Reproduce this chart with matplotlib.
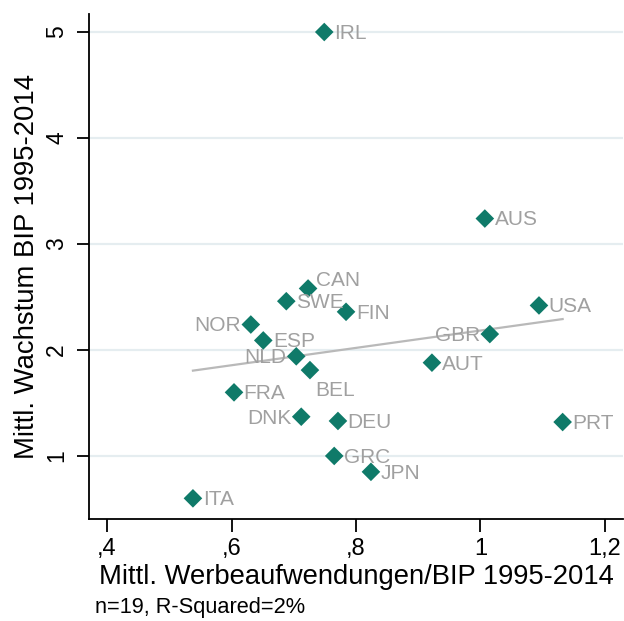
import numpy as np
import matplotlib
matplotlib.use("Agg")
import matplotlib.pyplot as plt

plt.rcParams['font.family'] = ['Liberation Sans', 'DejaVu Sans']

countries = ['IRL', 'AUS', 'CAN', 'SWE', 'FIN', 'NOR', 'ESP', 'NLD', 'BEL', 'FRA',
             'DNK', 'DEU', 'GRC', 'JPN', 'ITA', 'USA', 'GBR', 'AUT', 'PRT']
werbung = [0.749, 1.007, 0.723, 0.688, 0.784, 0.631, 0.651, 0.704, 0.726, 0.604,
           0.712, 0.771, 0.765, 0.824, 0.538, 1.094, 1.015, 0.922, 1.132]
wachstum = [5.00, 3.24, 2.58, 2.46, 2.36, 2.24, 2.09, 1.94, 1.81, 1.60,
            1.37, 1.33, 1.00, 0.85, 0.60, 2.42, 2.15, 1.88, 1.32]

xticks = [0.4, 0.6, 0.8, 1.0, 1.2]
xticklabels = [',4', ',6', ',8', '1', '1,2']
yticks = [1, 2, 3, 4, 5]

# Labels links vom Punkt
left_side = ['NOR', 'NLD', 'GBR', 'DNK']

fig = plt.figure(figsize=(6.24, 6.21), dpi=100)
ax = fig.add_axes([89 / 624, 102 / 621, 534 / 624, 505 / 621])

x = np.array(werbung)
y = np.array(wachstum)

# Regressionsgerade
b, a = np.polyfit(x, y, 1)
xs = np.array([x.min(), x.max()])
ax.plot(xs, a + b * xs, color='#b9b9b9', lw=1.6, zorder=2)

ax.scatter(x, y, marker='D', s=90, color='#0f7a69', edgecolors='none', zorder=3)

for c, xi, yi in zip(countries, x, y):
    if c in left_side:
        off, ha = (-7, -1), 'right'
    elif c == 'BEL':
        off, ha = (4, -15), 'left'
    elif c == 'CAN':
        off, ha = (6, 6), 'left'
    else:
        off, ha = (7, -1), 'left'
    ax.annotate(c, (xi, yi), xytext=off, textcoords='offset points',
                ha=ha, va='center', fontsize=15, color='#a0a0a0', zorder=4)

ax.set_xlim(0.371, 1.229)
ax.set_ylim(0.405, 5.17)
ax.set_xticks(xticks)
ax.set_xticklabels(xticklabels)
ax.set_yticks(yticks)
ax.set_yticklabels([str(v) for v in yticks], rotation=90, va='center')

ax.yaxis.grid(True, color='#e5edf0', lw=1.6)
ax.set_axisbelow(True)
for s in ['top', 'right']:
    ax.spines[s].set_visible(False)
for s in ['left', 'bottom']:
    ax.spines[s].set_linewidth(1.3)

ax.tick_params(axis='both', length=9, width=1.3, colors='black')
ax.tick_params(axis='x', pad=5, labelsize=17)
ax.tick_params(axis='y', pad=6, labelsize=16.5)

ax.set_xlabel('Mittl. Werbeaufwendungen/BIP 1995-2014', fontsize=19.7)
ax.xaxis.set_label_coords(0.5, -0.089)
ax.set_ylabel('Mittl. Wachstum BIP 1995-2014', fontsize=19.8)
ax.yaxis.set_label_coords(-0.092, 0.5)

fig.text(95 / 624, 8 / 621, 'n=19, R-Squared=2%', fontsize=15.7, va='baseline')

fig.savefig('out.png', dpi=100)
